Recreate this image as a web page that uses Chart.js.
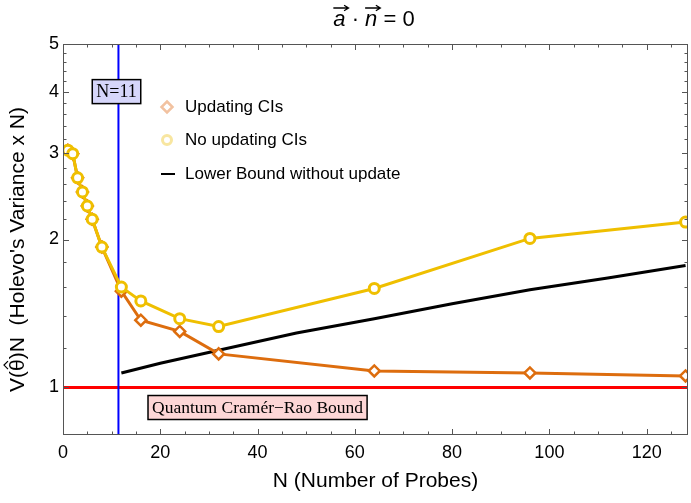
<!DOCTYPE html>
<html>
<head>
<meta charset="utf-8">
<script src="https://cdn.jsdelivr.net/npm/chart.js@4.4.0/dist/chart.umd.min.js"></script>
<style>
  html, body { margin: 0; padding: 0; background: #fff; }
  #wrap { width: 691px; height: 503px; }
</style>
</head>
<body>
<div id="wrap"><canvas id="chart" width="691" height="503"></canvas></div>
<script>
// Data
const probesN = [1, 2, 3, 4, 5, 6, 8, 12, 16, 24, 32, 64, 96, 128];
const noUpdating = [3.04, 2.99, 2.67, 2.50, 2.34, 2.20, 1.93, 1.60, 1.50, 1.38, 1.33, 1.59, 2.01, 2.17];
const updating = [3.04, 2.99, 2.67, 2.50, 2.34, 2.20, 1.93, 1.57, 1.37, 1.30, 1.17, 1.08, 1.07, 1.055];
const boundN = [12, 20, 32, 48, 64, 80, 96, 112, 128];
const lowerBound = [1.07, 1.12, 1.19, 1.29, 1.38, 1.48, 1.58, 1.67, 1.77];
const quantumBound = 1;
const markerN = 11.4;
const xTicks = [0, 20, 40, 60, 80, 100, 120];
const yTicks = [1, 2, 3, 4, 5];

const xMin = 0, xMax = 128.5;
const yMin = 0.8, yMax = 5;

const yellow = '#efbf00';
const orange = '#dd6d0e';
const sans = '"Liberation Sans", Arial, sans-serif';
const serif = '"Liberation Serif", "Times New Roman", serif';

function toPoints(xs, ys) {
    return xs.map((x, i) => ({ x: x, y: ys[i] }));
}

// Frame with inward ticks, like the original
const framePlugin = {
    id: 'frame',
    afterDatasetsDraw(chart) {
        const { ctx, chartArea: a, scales } = chart;
        const xs = scales.x, ys = scales.y;
        ctx.save();
        ctx.strokeStyle = '#555';
        ctx.lineWidth = 1;
        ctx.strokeRect(a.left + 0.5, a.top + 0.5, a.right - a.left - 1, a.bottom - a.top - 1);
        ctx.beginPath();
        for (let v = 0; v <= xMax; v += 5) {
            const px = Math.round(xs.getPixelForValue(v)) + 0.5;
            const len = v % 20 === 0 ? 6 : 3.5;
            ctx.moveTo(px, a.bottom); ctx.lineTo(px, a.bottom - len);
            ctx.moveTo(px, a.top); ctx.lineTo(px, a.top + len);
        }
        for (let v = 1; v <= 5.001; v += 0.2) {
            const val = Math.round(v * 10) / 10;
            const py = Math.round(ys.getPixelForValue(val)) + 0.5;
            const len = Number.isInteger(val) ? 6 : 3.5;
            ctx.moveTo(a.left, py); ctx.lineTo(a.left + len, py);
            ctx.moveTo(a.right, py); ctx.lineTo(a.right - len, py);
        }
        ctx.stroke();
        ctx.restore();
    },
    afterDraw(chart) {
        const { ctx, chartArea: a, scales } = chart;
        const xs = scales.x, ys = scales.y;
        ctx.save();

        // Title: a-vector . n-vector = 0
        const upright = '22px ' + sans;
        const italic = 'italic 22px ' + sans;
        const parts = [['a', italic, true], [' \u00b7 ', upright, false], ['n', italic, true], [' = 0', upright, false]];
        let total = 0;
        parts.forEach(p => { ctx.font = p[1]; p.push(ctx.measureText(p[0]).width); total += p[3]; });
        let tx = 374 - total / 2;
        const base = 26;
        ctx.fillStyle = '#000';
        ctx.strokeStyle = '#000';
        ctx.textBaseline = 'alphabetic';
        ctx.textAlign = 'left';
        parts.forEach(p => {
            ctx.font = p[1];
            ctx.fillText(p[0], tx, base);
            if (p[2]) {
                const x0 = tx, x1 = tx + p[3] + 3, ay = 8;
                ctx.lineWidth = 1.3;
                ctx.beginPath();
                ctx.moveTo(x0, ay); ctx.lineTo(x1, ay);
                ctx.moveTo(x1 - 4.5, ay - 2.8); ctx.lineTo(x1, ay); ctx.lineTo(x1 - 4.5, ay + 2.8);
                ctx.stroke();
            }
            tx += p[3];
        });

        // Y axis title, rotated, with a hat over theta
        ctx.save();
        ctx.translate(18, (a.top + a.bottom) / 2 + 10);
        ctx.rotate(-Math.PI / 2);
        ctx.font = '21px ' + sans;
        ctx.fillStyle = '#000';
        ctx.textBaseline = 'middle';
        const yParts = ['V(', '\u03b8', ')N  (Holevo\'s Variance x N)'];
        const yW = yParts.map(s => ctx.measureText(s).width);
        let yx = -(yW[0] + yW[1] + yW[2]) / 2;
        ctx.textAlign = 'left';
        ctx.fillText(yParts[0], yx, 0);
        const thetaX = yx + yW[0];
        ctx.fillText(yParts[1], thetaX, 0);
        ctx.fillText(yParts[2], thetaX + yW[1], 0);
        ctx.strokeStyle = '#000';
        ctx.lineWidth = 1.2;
        ctx.beginPath();
        const hc = thetaX + yW[1] / 2;
        ctx.moveTo(hc - 4, -10); ctx.lineTo(hc, -14); ctx.lineTo(hc + 4, -10);
        ctx.stroke();
        ctx.restore();

        // Labelled boxes
        function box(text, cx, cy, fill, font) {
            ctx.font = font;
            const w = ctx.measureText(text).width + 8;
            const h = 24;
            ctx.fillStyle = fill;
            ctx.fillRect(cx - w / 2, cy - h / 2, w, h);
            ctx.strokeStyle = '#000';
            ctx.lineWidth = 1.5;
            ctx.strokeRect(cx - w / 2, cy - h / 2, w, h);
            ctx.fillStyle = '#000';
            ctx.textAlign = 'center';
            ctx.textBaseline = 'middle';
            ctx.fillText(text, cx, cy + 1);
        }
        box('N=11', xs.getPixelForValue(11), ys.getPixelForValue(4), '#d6d6fa', '18px ' + serif);
        box('Quantum Cram\u00e9r\u2212Rao Bound', xs.getPixelForValue(40), ys.getPixelForValue(0.91), '#fdd6d6', '17.5px ' + serif);

        // Legend
        const lx = 167, rows = [107, 140, 174];
        ctx.font = '17px ' + sans;
        ctx.textAlign = 'left';
        ctx.textBaseline = 'middle';
        ctx.lineWidth = 2.5;
        ctx.strokeStyle = '#f2c2a0';
        ctx.fillStyle = '#fff';
        ctx.beginPath();
        ctx.moveTo(lx, rows[0] - 5.5); ctx.lineTo(lx + 5.5, rows[0]); ctx.lineTo(lx, rows[0] + 5.5); ctx.lineTo(lx - 5.5, rows[0]); ctx.closePath();
        ctx.fill(); ctx.stroke();
        ctx.strokeStyle = '#f8e6a0';
        ctx.lineWidth = 3;
        ctx.beginPath();
        ctx.arc(lx, rows[1], 4.5, 0, Math.PI * 2);
        ctx.fill(); ctx.stroke();
        ctx.strokeStyle = '#000';
        ctx.lineWidth = 2;
        ctx.beginPath();
        ctx.moveTo(lx - 6, rows[2]); ctx.lineTo(lx + 8, rows[2]);
        ctx.stroke();
        ctx.fillStyle = '#000';
        ctx.fillText('Updating CIs', 185, rows[0]);
        ctx.fillText('No updating CIs', 185, rows[1]);
        ctx.fillText('Lower Bound without update', 185, rows[2]);

        ctx.restore();
    }
};

const ctx = document.getElementById('chart');
new Chart(ctx, {
    type: 'scatter',
    data: {
        datasets: [
            {
                label: 'No updating CIs',
                data: toPoints(probesN, noUpdating),
                showLine: true,
                borderColor: yellow,
                borderWidth: 3,
                pointStyle: 'circle',
                pointRadius: 5,
                pointBorderWidth: 3,
                pointBackgroundColor: '#fff',
                pointBorderColor: yellow
            },
            {
                label: 'Updating CIs',
                data: toPoints(probesN, updating),
                showLine: true,
                borderColor: orange,
                borderWidth: 3,
                pointStyle: 'rectRot',
                pointRadius: 5.5,
                pointBorderWidth: 2.5,
                pointBackgroundColor: '#fff',
                pointBorderColor: orange
            },
            {
                label: 'Lower Bound without update',
                data: toPoints(boundN, lowerBound),
                showLine: true,
                borderColor: '#000',
                borderWidth: 3,
                pointRadius: 0
            },
            {
                label: 'N=11',
                data: [{ x: markerN, y: yMin }, { x: markerN, y: yMax }],
                showLine: true,
                borderColor: '#0000ff',
                borderWidth: 2,
                pointRadius: 0
            },
            {
                label: 'Quantum Cramer-Rao Bound',
                data: [{ x: xMin, y: quantumBound }, { x: xMax, y: quantumBound }],
                showLine: true,
                borderColor: '#ff0000',
                borderWidth: 3,
                pointRadius: 0
            }
        ]
    },
    options: {
        responsive: false,
        animation: false,
        devicePixelRatio: 1,
        layout: { autoPadding: false, padding: { top: 44, right: 3, left: 0, bottom: 0 } },
        plugins: {
            legend: { display: false },
            tooltip: { enabled: false },
            title: { display: false }
        },
        scales: {
            x: {
                type: 'linear',
                min: xMin,
                max: xMax,
                grid: { display: false, drawTicks: false },
                border: { display: false },
                afterBuildTicks: s => { s.ticks = xTicks.map(v => ({ value: v })); },
                afterFit: s => { s.height = 68; s.paddingLeft = 0; s.paddingRight = 0; },
                ticks: {
                    color: '#000',
                    padding: 7,
                    font: { family: sans, size: 18 },
                    callback: v => String(v)
                },
                title: {
                    display: true,
                    text: 'N (Number of Probes)',
                    color: '#000',
                    font: { family: sans, size: 21 },
                    padding: { top: 0, bottom: 9 }
                }
            },
            y: {
                type: 'logarithmic',
                min: yMin,
                max: yMax,
                grid: { display: false, drawTicks: false },
                border: { display: false },
                afterBuildTicks: s => { s.ticks = yTicks.map(v => ({ value: v })); },
                afterFit: s => { s.width = 63; s.paddingTop = 0; s.paddingBottom = 0; },
                ticks: {
                    color: '#000',
                    padding: 4,
                    font: { family: sans, size: 18 },
                    callback: v => String(v)
                },
                title: { display: false }
            }
        }
    },
    plugins: [framePlugin]
});
</script>
</body>
</html>
